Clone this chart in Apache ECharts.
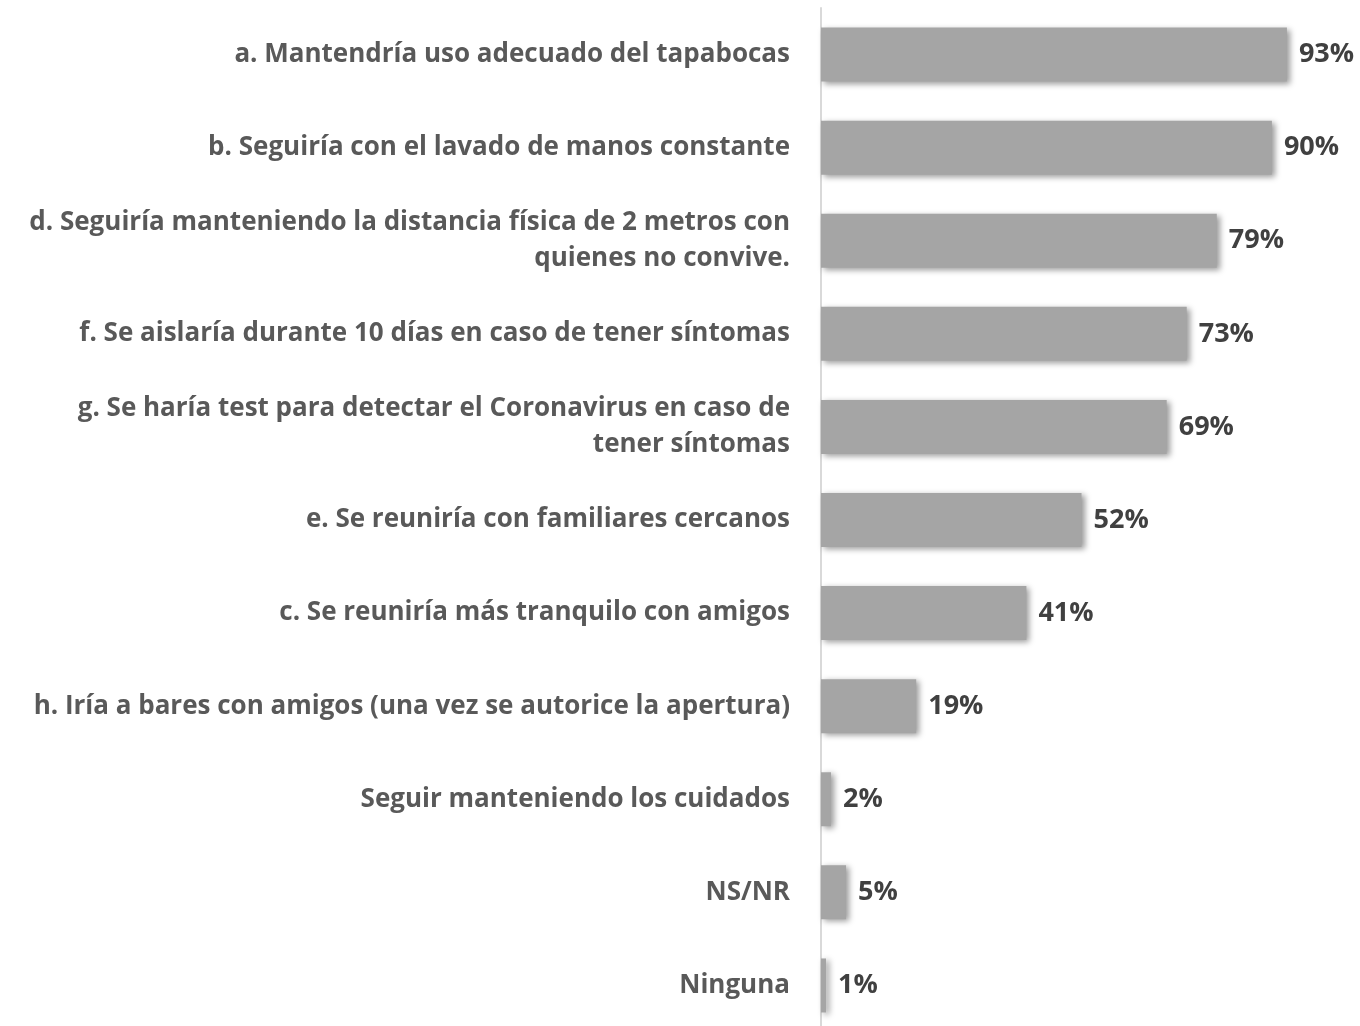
<!DOCTYPE html>
<html>
<head>
<meta charset="utf-8">
<script src="https://cdn.jsdelivr.net/npm/echarts@6/dist/echarts.min.js"></script>
<style>
  html,body{margin:0;padding:0;background:#fff;overflow:hidden;}
  #chart{width:1360px;height:1040px;}
</style>
</head>
<body>
<div id="chart"></div>
<script>
  // categorias de arriba hacia abajo
  var categories = [
    'a. Mantendría uso adecuado del tapabocas',
    'b. Seguiría con el lavado de manos constante',
    'd. Seguiría manteniendo la distancia física de 2 metros con\nquienes no convive.',
    'f. Se aislaría durante 10 días en caso de tener síntomas',
    'g. Se haría test para detectar el Coronavirus en caso de\ntener síntomas',
    'e. Se reuniría con familiares cercanos',
    'c. Se reuniría más tranquilo con amigos',
    'h. Iría a bares con amigos (una vez se autorice la apertura)',
    'Seguir manteniendo los cuidados',
    'NS/NR',
    'Ninguna'
  ];
  var values = [93, 90, 79, 73, 69, 52, 41, 19, 2, 5, 1];

  var chart = echarts.init(document.getElementById('chart'));
  var option = {
    animation: false,
    grid: {left: 821, right: 38, top: 8, height: 1024, containLabel: false},
    xAxis: {
      type: 'value', min: 0, max: 100, show: false
    },
    yAxis: {
      type: 'category',
      inverse: true,
      data: categories,
      axisTick: {show: false},
      axisLine: {show: true, lineStyle: {color: '#d9d9d9', width: 2}},
      axisLabel: {
        margin: 31,
        color: '#595959',
        fontFamily: 'Open Sans',
        fontWeight: 'bold',
        fontSize: 26,
        lineHeight: 36,
        align: 'right'
      }
    },
    series: [{
      type: 'bar',
      data: values,
      barWidth: 54,
      itemStyle: {
        color: '#a5a5a5',
        shadowColor: 'rgba(0,0,0,0.4)',
        shadowBlur: 6,
        shadowOffsetX: 3,
        shadowOffsetY: 2
      },
      label: {
        show: true,
        position: 'right',
        distance: 12,
        formatter: '{c}%',
        color: '#404040',
        fontFamily: 'Open Sans',
        fontWeight: 'bold',
        fontSize: 27
      }
    }]
  };
  chart.setOption(option);
</script>
</body>
</html>
